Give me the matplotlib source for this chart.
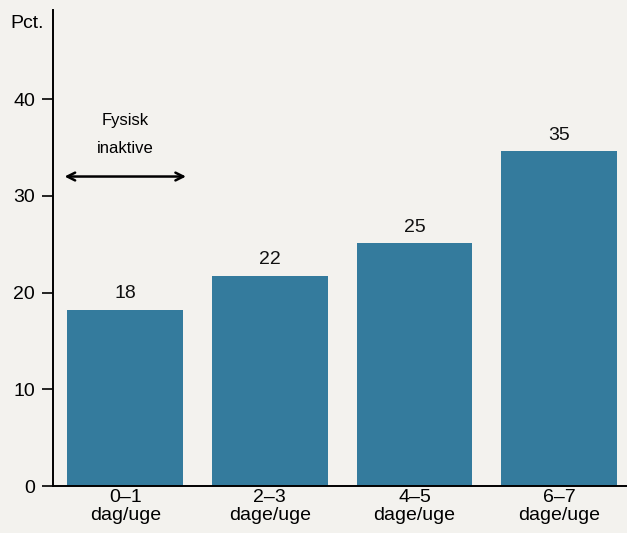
import matplotlib.pyplot as plt

categories = ["0\u20131\ndag/uge", "2\u20133\ndage/uge", "4\u20135\ndage/uge", "6\u20137\ndage/uge"]
values = [18.2, 21.7, 25.1, 34.6]
y_ticks = [0, 10, 20, 30, 40]

bg = "#f3f2ee"
bar_color = "#347b9d"

plt.rcParams["font.family"] = ["Liberation Sans", "DejaVu Sans"]

fig = plt.figure(figsize=(6.27, 5.33), dpi=100, facecolor=bg)
ax = fig.add_axes([0.0845, 0.088, 0.9155, 0.893], facecolor=bg)

x = range(len(categories))
bars = ax.bar(x, values, width=0.8, color=bar_color, zorder=2)
for rect, v in zip(bars, values):
    ax.text(rect.get_x() + rect.get_width() / 2, v + 0.8, f"{v:.0f}",
            ha="center", va="bottom", fontsize=14, color="#111111")

# arrow marking the physically inactive group
ax.annotate("", xy=(-0.42, 32), xytext=(0.42, 32),
            arrowprops=dict(arrowstyle="<->", color="black", lw=1.8,
                            mutation_scale=14, shrinkA=0, shrinkB=0))
ax.text(0, 37.8, "Fysisk", ha="center", va="center", fontsize=12)
ax.text(0, 34.9, "inaktive", ha="center", va="center", fontsize=12)

ax.set_xlim(-0.5, 3.47)
ax.set_ylim(0, 49.2)
ax.set_yticks(y_ticks)
ax.set_xticks(list(x))
ax.set_xticklabels(categories, fontsize=14, linespacing=1.1)
ax.tick_params(axis="x", length=0, pad=2)
ax.tick_params(axis="y", length=8, width=1.2, labelsize=14, pad=5)

for s in ["top", "right"]:
    ax.spines[s].set_visible(False)
for s in ["left", "bottom"]:
    ax.spines[s].set_linewidth(1.4)

fig.text(0.016, 0.955, "Pct.", fontsize=14, ha="left", va="center")

fig.savefig("out.png", dpi=100, facecolor=bg)
